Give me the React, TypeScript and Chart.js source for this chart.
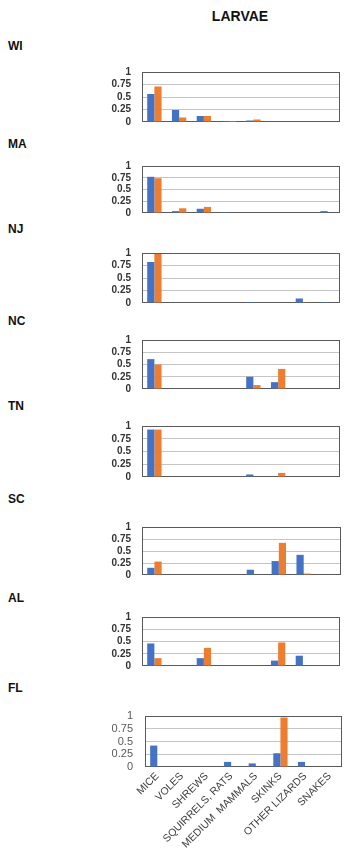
import React, { useEffect, useRef } from "react";
import { Chart, registerables } from "chart.js";
Chart.register(...registerables);

const categories = [
  "MICE",
  "VOLES",
  "SHREWS",
  "SQUIRRELS, RATS",
  "MEDIUM  MAMMALS",
  "SKINKS",
  "OTHER LIZARDS",
  "SNAKES",
];
const yTickValues = [0, 0.25, 0.5, 0.75, 1];
const chartTitle = "LARVAE";
const states = ["WI", "MA", "NJ", "NC", "TN", "SC", "AL", "FL"];

const wiBlue = [0.56, 0.24, 0.12, 0.02, 0.03, 0.01, 0, 0.01];
const wiOrange = [0.71, 0.09, 0.12, 0.02, 0.05, 0.01, 0, 0];
const maBlue = [0.77, 0.04, 0.09, 0.02, 0.01, 0, 0, 0.04];
const maOrange = [0.74, 0.1, 0.13, 0.01, 0, 0, 0, 0];
const njBlue = [0.82, 0.01, 0.01, 0, 0.02, 0, 0.09, 0.02];
const njOrange = [0.98, 0.01, 0, 0, 0, 0, 0.005, 0];
const ncBlue = [0.61, 0, 0, 0, 0.25, 0.14, 0, 0];
const ncOrange = [0.5, 0, 0, 0, 0.08, 0.41, 0, 0];
const tnBlue = [0.93, 0, 0.01, 0, 0.05, 0.01, 0.01, 0];
const tnOrange = [0.93, 0, 0, 0, 0, 0.08, 0, 0];
const scBlue = [0.15, 0, 0.01, 0.01, 0.11, 0.29, 0.42, 0.01];
const scOrange = [0.28, 0, 0, 0, 0, 0.67, 0.03, 0];
const alBlue = [0.46, 0, 0.16, 0.01, 0.01, 0.11, 0.21, 0];
const alOrange = [0.16, 0, 0.37, 0, 0, 0.48, 0, 0];
const flBlue = [0.42, 0, 0, 0.1, 0.07, 0.27, 0.1, 0];
const flOrange = [0, 0, 0, 0, 0, 0.97, 0.01, 0];

const blueSeries = [wiBlue, maBlue, njBlue, ncBlue, tnBlue, scBlue, alBlue, flBlue];
const orangeSeries = [wiOrange, maOrange, njOrange, ncOrange, tnOrange, scOrange, alOrange, flOrange];

// layout (pixels on the page)
const panels = [
  { top: 72, bottom: 122, left: 142, right: 340, labelY: 46 },
  { top: 166, bottom: 213, left: 142, right: 340, labelY: 143.5 },
  { top: 253, bottom: 303, left: 142, right: 340, labelY: 229 },
  { top: 340, bottom: 389, left: 142, right: 340, labelY: 321 },
  { top: 426, bottom: 477, left: 142, right: 340, labelY: 405.5 },
  { top: 527, bottom: 575, left: 142, right: 341, labelY: 499 },
  { top: 617, bottom: 666, left: 142, right: 340, labelY: 597.5 },
  { top: 716, bottom: 767, left: 145, right: 342, labelY: 687.5 },
];

const PAGE_W = 351;
const PAGE_H = 856;
const TOP_PAD = 8;

const framePlugin = {
  id: "frame",
  beforeDatasetsDraw(chart: any) {
    const { ctx, chartArea: a } = chart;
    const l = Math.round(a.left) + 0.5;
    const t = Math.round(a.top) + 0.5;
    const r = Math.round(a.right) - 0.5;
    const b = Math.round(a.bottom) - 0.5;
    ctx.save();
    ctx.strokeStyle = "#5a5a5a";
    ctx.lineWidth = 1;
    ctx.strokeRect(l, t, r - l, b - t);
    ctx.restore();
  },
};

function Panel({ index }: { index: number }) {
  const ref = useRef<HTMLCanvasElement | null>(null);
  const p = panels[index];
  const isLast = index === panels.length - 1;
  const canvasTop = p.top - TOP_PAD;
  const bottomSpace = isLast ? PAGE_H - p.bottom : 7;
  const canvasH = p.bottom - p.top + TOP_PAD + bottomSpace;

  useEffect(() => {
    if (!ref.current) return;
    const chart = new Chart(ref.current, {
      type: "bar",
      data: {
        labels: categories,
        datasets: [
          {
            label: "Series 1",
            data: blueSeries[index],
            backgroundColor: "#4472C4",
            categoryPercentage: 0.58,
            barPercentage: 1.0,
          },
          {
            label: "Series 2",
            data: orangeSeries[index],
            backgroundColor: "#ED7D31",
            categoryPercentage: 0.58,
            barPercentage: 1.0,
          },
        ],
      },
      options: {
        animation: false,
        responsive: false,
        devicePixelRatio: 1,
        layout: {
          padding: {
            left: 0,
            top: TOP_PAD,
            right: PAGE_W - p.right,
            bottom: 0,
          },
        },
        plugins: {
          legend: { display: false },
          tooltip: { enabled: false },
          title: { display: false },
        },
        scales: {
          x: {
            display: true,
            grid: { display: false, drawTicks: false },
            border: { display: false },
            ticks: {
              display: isLast,
              autoSkip: false,
              maxRotation: 45,
              minRotation: 45,
              padding: 3,
              color: "#404040",
              font: { family: "Liberation Sans", size: 10.5 },
            },
            afterFit(scale: any) {
              scale.height = bottomSpace;
              scale.paddingLeft = 0;
              scale.paddingRight = 0;
              scale.paddingTop = 0;
              scale.paddingBottom = 0;
            },
          },
          y: {
            min: 0,
            max: 1,
            afterBuildTicks(scale: any) {
              scale.ticks = yTickValues.map((v) => ({ value: v }));
            },
            ticks: {
              autoSkip: false,
              padding: isLast ? 12 : 11,
              color: isLast ? "#595959" : "#333333",
              font: isLast
                ? { family: "Liberation Sans", size: 11 }
                : { family: "Liberation Sans", size: 10, weight: "bold" },
              callback: (v: any) => String(v),
            },
            grid: {
              drawTicks: false,
              color: (c: any) =>
                c.tick && c.tick.value > 0 && c.tick.value < 1 ? "#c4c4c4" : "rgba(0,0,0,0)",
              lineWidth: 1,
            },
            border: { display: false },
            afterFit(scale: any) {
              scale.width = p.left;
              scale.paddingTop = 0;
              scale.paddingBottom = 0;
              scale.paddingLeft = 0;
              scale.paddingRight = 0;
            },
          },
        },
      },
      plugins: [framePlugin],
    });
    return () => chart.destroy();
  }, [index]);

  return (
    <canvas
      ref={ref}
      width={PAGE_W}
      height={canvasH}
      style={{
        position: "absolute",
        left: 0,
        top: canvasTop,
        width: PAGE_W,
        height: canvasH,
      }}
    />
  );
}

export default function App() {
  return (
    <div
      style={{
        position: "absolute",
        left: 0,
        top: 0,
        width: PAGE_W,
        height: PAGE_H,
        background: "#ffffff",
        overflow: "hidden",
        fontFamily: "Liberation Sans, Arial, sans-serif",
      }}
    >
      <div
        style={{
          position: "absolute",
          left: 240,
          top: 9,
          transform: "translateX(-50%)",
          fontSize: 14,
          lineHeight: "14px",
          fontWeight: 700,
          color: "#111",
          whiteSpace: "nowrap",
        }}
      >
        {chartTitle}
      </div>
      {states.map((s, i) => (
        <div
          key={s}
          style={{
            position: "absolute",
            left: 8,
            top: panels[i].labelY - 6,
            fontSize: 12,
            lineHeight: "12px",
            fontWeight: 700,
            color: "#111",
          }}
        >
          {s}
        </div>
      ))}
      {panels.map((_, i) => (
        <Panel key={i} index={i} />
      ))}
    </div>
  );
}
